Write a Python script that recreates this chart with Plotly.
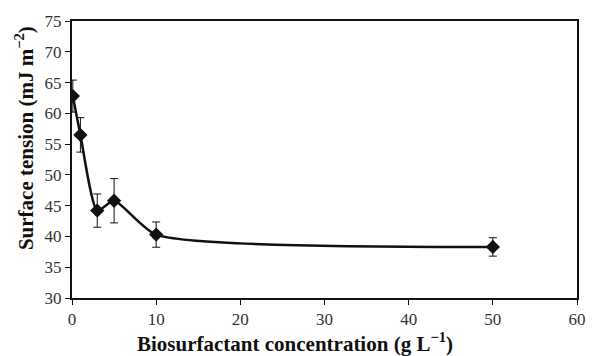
import plotly.graph_objects as go

conc = [0.1, 1, 3, 5, 10, 50]
tension = [62.8, 56.5, 44.2, 45.8, 40.3, 38.3]
err = [2.6, 2.8, 2.7, 3.6, 2.05, 1.5]
x_ticks = [0, 10, 20, 30, 40, 50, 60]
y_ticks = [30, 35, 40, 45, 50, 55, 60, 65, 70, 75]

font = "Liberation Serif, Times New Roman, serif"

fig = go.Figure()
fig.add_trace(go.Scatter(
    x=conc, y=tension, mode="lines+markers",
    line=dict(color="#111111", width=2.5, shape="spline", smoothing=0.6),
    marker=dict(symbol="diamond", size=11, color="#111111"),
    error_y=dict(type="data", array=err, visible=True, color="#111111", thickness=1, width=4),
    showlegend=False,
))

fig.update_layout(
    width=593, height=356,
    margin=dict(l=72, r=7.5, t=20.7, b=58.3),
    paper_bgcolor="white", plot_bgcolor="white",
    font=dict(family=font, size=17, color="#333333"),
    xaxis=dict(range=[0, 60], tickvals=x_ticks, showgrid=False, zeroline=False,
               showline=True, linecolor="#111111", linewidth=2, mirror=True,
               ticks="outside", ticklen=5, tickcolor="#111111", tickwidth=1),
    yaxis=dict(range=[30, 75], tickvals=y_ticks, showgrid=False, zeroline=False,
               showline=True, linecolor="#111111", linewidth=2, mirror=True,
               ticks="outside", ticklen=5, tickcolor="#111111", tickwidth=1),
    annotations=[
        dict(text="<b>Biosurfactant concentration (g L<sup>−1</sup>)</b>", x=299, y=342,
             xref="paper", yref="paper", showarrow=False, font=dict(size=21, family=font, color="#111111")),
        dict(text="<b>Surface tension (mJ m<sup>−2</sup>)</b>", x=24, y=138,
             xref="paper", yref="paper", showarrow=False, textangle=-90,
             font=dict(size=21, family=font, color="#111111")),
    ],
)
# convert pixel positions to paper coordinates
pw = 593 - 72 - 7.5
ph = 356 - 20.7 - 58.3
for a in fig.layout.annotations:
    px, py = a.x, a.y
    a.x = (px - 72) / pw
    a.y = (356 - 58.3 - py) / ph
    a.xanchor = "center"
    a.yanchor = "middle"

fig.write_html("out.html")
